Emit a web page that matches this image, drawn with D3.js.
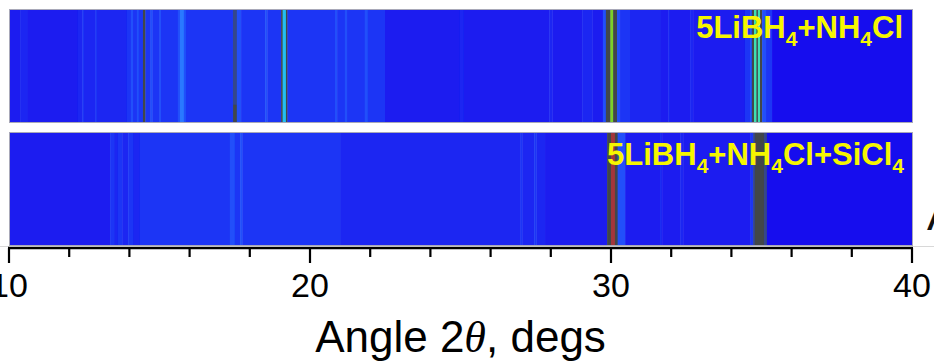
<!DOCTYPE html>
<html>
<head>
<meta charset="utf-8">
<script src="https://cdn.jsdelivr.net/npm/d3@7"></script>
<style>
  html, body { margin: 0; padding: 0; background: #fff; }
  svg { display: block; }
</style>
</head>
<body>
<svg id="chart" width="934" height="361"></svg>
<script>
// Colour levels of the contour map (low intensity -> high), plus contour-line grey.
const levelKeys = ["L0", "L1", "L2", "L3", "L4", "L5", "L6", "L7", "L8", "L9", "CB", "C"];
const levelColors = ["#1510ee", "#1a1af0", "#1a27f2", "#1b36f5", "#2050fa", "#2a78ff",
                     "#22bff2", "#3ee0b2", "#7ad22a", "#a3363a", "#34468a", "#424649"];

// Stripes of the first pattern: [start angle (deg), level]; each runs to the next start.
const topStripes = [
  [10.00, "L1"], [10.37, "L2"], [10.60, "L1"], [12.29, "L2"], [12.43, "L3"], [12.49, "L2"],
  [12.86, "L3"], [12.92, "L2"], [13.92, "L3"], [14.05, "L4"], [14.12, "L3"], [14.25, "L4"],
  [14.31, "L3"], [14.45, "C"], [14.53, "L3"], [14.70, "L4"], [14.76, "L3"], [15.00, "L4"],
  [15.05, "L3"], [15.61, "L4"], [15.68, "L5"], [15.81, "L4"], [15.88, "L3"], [17.44, "CB"],
  [17.57, "L4"], [17.71, "L3"], [18.51, "L4"], [18.58, "L3"], [19.04, "C"], [19.09, "L6"],
  [19.20, "C"], [19.25, "L3"], [20.83, "L4"], [20.90, "L3"], [21.16, "L4"], [21.23, "L3"],
  [21.82, "L4"], [21.92, "L3"], [22.49, "L1"], [24.98, "L2"], [25.11, "L1"], [27.95, "L2"],
  [28.05, "L1"], [29.05, "L2"], [29.38, "L1"], [29.73, "L4"], [29.83, "C"], [29.98, "L8"],
  [30.07, "C"], [30.20, "L4"], [30.30, "L3"], [30.63, "L2"], [31.63, "L1"], [31.90, "L2"],
  [31.96, "L1"], [32.63, "L2"], [32.73, "L1"], [34.45, "L3"], [34.62, "L4"], [34.68, "C"],
  [34.75, "L7"], [34.83, "C"], [34.88, "L7"], [34.95, "C"], [35.02, "L4"], [35.15, "L3"],
  [35.35, "L0"]
];

// Stripes of the second pattern.
const bottomStripes = [
  [10.00, "L1"], [13.36, "L3"], [13.49, "L2"], [13.62, "L3"], [13.76, "L2"], [13.96, "L3"],
  [14.12, "L2"], [14.35, "L3"], [17.34, "L4"], [17.50, "L3"], [17.68, "L4"], [17.75, "L3"],
  [21.00, "L2"], [26.98, "L3"], [27.05, "L2"], [27.45, "L3"], [27.52, "L2"], [27.81, "L1"],
  [29.87, "C"], [30.00, "L9"], [30.13, "C"], [30.22, "L4"], [30.47, "L1"], [31.63, "L2"],
  [31.70, "L1"], [32.30, "L2"], [32.40, "L1"], [34.62, "L3"], [34.72, "CB"], [34.78, "C"],
  [35.08, "CB"], [35.18, "L0"]
];

// Local darker patches: [panel, start angle, end angle, from fraction, to fraction, level].
const patches = [
  [0, 17.45, 17.56, 0.84, 1.0, "C"]
];

const panelLabels = [
  [{ t: "5LiBH" }, { t: "4", sub: true }, { t: "+NH" }, { t: "4", sub: true }, { t: "Cl" }],
  [{ t: "5LiBH" }, { t: "4", sub: true }, { t: "+NH" }, { t: "4", sub: true }, { t: "Cl+SiCl" }, { t: "4", sub: true }]
];

const tickValues = d3.range(10, 41, 2);
const majorTicks = [10, 20, 30, 40];

const svg = d3.select("#chart");

const x = d3.scaleLinear().domain([10, 40]).range([9, 912]);
const color = d3.scaleOrdinal().domain(levelKeys).range(levelColors);

const panels = [
  { stripes: topStripes, y0: 9, y1: 123, labelX: 903, labelY: 38 },
  { stripes: bottomStripes, y0: 132, y1: 246, labelX: 904, labelY: 165 }
];

const defs = svg.append("defs");
defs.append("filter").attr("id", "soft")
  .attr("x", "-2%").attr("y", "0").attr("width", "104%").attr("height", "100%")
  .append("feGaussianBlur").attr("stdDeviation", "0.6 0");

panels.forEach((p, pi) => {
  const g = svg.append("g");
  const clipId = "clip" + pi;
  defs.append("clipPath").attr("id", clipId)
    .append("rect").attr("x", 9).attr("y", p.y0).attr("width", 904).attr("height", p.y1 - p.y0);

  const inner = g.append("g").attr("clip-path", `url(#${clipId})`);
  const body = inner.append("g").attr("filter", "url(#soft)");

  const segs = p.stripes.map((s, i) => ({
    a0: s[0],
    a1: i + 1 < p.stripes.length ? p.stripes[i + 1][0] : 40.05,
    level: s[1]
  }));

  body.selectAll("rect.stripe").data(segs).join("rect")
    .attr("class", "stripe")
    .attr("x", d => x(d.a0))
    .attr("y", p.y0)
    .attr("width", d => Math.max(0, x(d.a1) - x(d.a0)) + 0.4)
    .attr("height", p.y1 - p.y0)
    .attr("fill", d => color(d.level));

  body.selectAll("rect.patch").data(patches.filter(d => d[0] === pi)).join("rect")
    .attr("class", "patch")
    .attr("x", d => x(d[1]))
    .attr("width", d => x(d[2]) - x(d[1]))
    .attr("y", d => p.y0 + d[3] * (p.y1 - p.y0))
    .attr("height", d => (d[4] - d[3]) * (p.y1 - p.y0))
    .attr("fill", d => color(d[5]));

  // thin frame
  g.append("rect")
    .attr("x", 9.5).attr("y", p.y0 + 0.5)
    .attr("width", 903).attr("height", p.y1 - p.y0 - 1)
    .attr("fill", "none").attr("stroke", "#a8a8b8").attr("stroke-width", 1);

  const label = g.append("text")
    .attr("x", p.labelX).attr("y", p.labelY)
    .attr("text-anchor", "end")
    .attr("font-family", "Liberation Sans, Arial, sans-serif")
    .attr("font-weight", "bold")
    .attr("font-size", 31)
    .attr("fill", "#f6f600");
  panelLabels[pi].forEach((part, k) => {
    const prevSub = k > 0 && panelLabels[pi][k - 1].sub;
    label.append("tspan")
      .attr("font-size", part.sub ? 21 : 31)
      .attr("dy", part.sub ? 8 : (prevSub ? -8 : 0))
      .text(part.t);
  });
});

// faint guide lines either side of the axis
svg.append("line").attr("x1", 0).attr("x2", 9).attr("y1", 246.5).attr("y2", 246.5)
  .attr("stroke", "#d8d8d8");
svg.append("line").attr("x1", 913).attr("x2", 934).attr("y1", 246.5).attr("y2", 246.5)
  .attr("stroke", "#d8d8d8");

// Axis
const axisG = svg.append("g").attr("transform", "translate(0,248)");
axisG.append("line")
  .attr("x1", x(10) - 1).attr("x2", x(40) + 1)
  .attr("y1", 0).attr("y2", 0)
  .attr("stroke", "#000").attr("stroke-width", 2.4);

axisG.selectAll("line.tick").data(tickValues).join("line")
  .attr("class", "tick")
  .attr("x1", d => x(d)).attr("x2", d => x(d))
  .attr("y1", 0)
  .attr("y2", d => majorTicks.includes(d) ? 15 : 9)
  .attr("stroke", "#000").attr("stroke-width", 2.2);

axisG.selectAll("text.tl").data(majorTicks).join("text")
  .attr("class", "tl")
  .attr("x", d => x(d))
  .attr("y", 49)
  .attr("text-anchor", "middle")
  .attr("font-family", "Liberation Sans, Arial, sans-serif")
  .attr("font-size", 34)
  .attr("fill", "#000")
  .text(d => d);

const title = svg.append("text")
  .attr("x", (x(10) + x(40)) / 2)
  .attr("y", 352)
  .attr("text-anchor", "middle")
  .attr("font-family", "Liberation Sans, Arial, sans-serif")
  .attr("font-size", 44)
  .attr("fill", "#000");
title.append("tspan").text("Angle 2");
title.append("tspan").attr("font-style", "italic").attr("font-family", "Liberation Serif, Times New Roman, serif").text("θ");
title.append("tspan").text(", degs");

// fragment of a neighbouring letter at the right edge
svg.append("text")
  .attr("x", 927).attr("y", 230)
  .attr("font-family", "Liberation Sans, Arial, sans-serif")
  .attr("font-size", 44)
  .attr("fill", "#111")
  .text("A");
</script>
</body>
</html>
